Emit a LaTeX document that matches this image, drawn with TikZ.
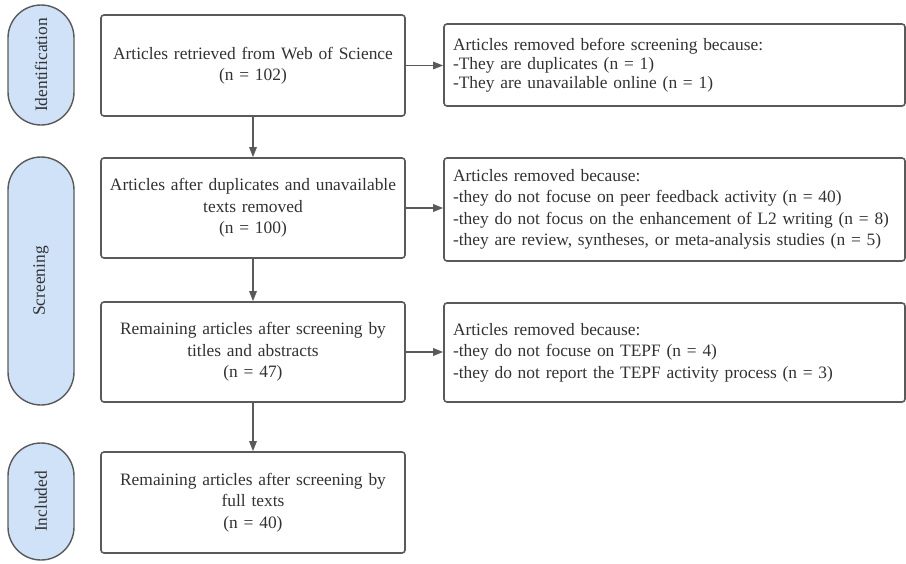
\documentclass[tikz,border=0pt]{standalone}
\usepackage{fontspec}
\setmainfont{Liberation Serif}
\usetikzlibrary{arrows.meta}

\definecolor{stageblue}{RGB}{207,226,248}
\definecolor{edgegray}{RGB}{90,90,90}
\definecolor{textgray}{RGB}{50,50,50}

\begin{document}
\begin{tikzpicture}[x=1pt, y=-1pt, >={Triangle[length=10pt,width=7.5pt]},
	every node/.style={font=\fontsize{17.4}{21.5}\selectfont, text=textgray},
	stage/.style={draw=edgegray, line width=1.4pt, fill=stageblue, rotate=90, minimum height=66pt, rounded corners=33pt, inner sep=0pt},
	recbox/.style={draw=edgegray, line width=1.6pt, rounded corners=3pt, align=center, text width=290pt, inner xsep=7pt},
	rmbox/.style={draw=edgegray, line width=1.6pt, rounded corners=3pt, align=left, text width=443pt, inner xsep=9pt},
	flow/.style={->, draw=edgegray, line width=1.4pt}]
	
	% parameters
	\def\stagex{41}     % centre of the stage pills
	\def\recx{253}      % centre of the record boxes
	\def\rmx{674.5}     % centre of the removal boxes
	
	\useasboundingbox (0,0) rectangle (906,563);
	
	% stages
	\node[stage, minimum width=120pt] (idstage) at (\stagex,65) {Identification};
	\node[stage, minimum width=248pt] (scrstage) at (\stagex,281) {Screening};
	\node[stage, minimum width=117pt] (incstage) at (\stagex,501.5) {Included};
	
	% records kept
	\node[recbox, minimum height=101pt] (retrieved) at (\recx,65.5)
		{Articles retrieved from Web of Science\\(n = 102)};
	\node[recbox, minimum height=100pt] (afterdup) at (\recx,208)
		{Articles after duplicates and unavailable\\texts removed\\(n = 100)};
	\node[recbox, minimum height=100pt] (aftertitle) at (\recx,352)
		{Remaining articles after screening by\\titles and abstracts\\(n = 47)};
	\node[recbox, minimum height=101pt] (afterfull) at (\recx,502.5)
		{Remaining articles after screening by\\full texts\\(n = 40)};
	
	% records removed
	\node[rmbox, minimum height=82pt, font=\fontsize{17.4}{19}\selectfont] (rmdup) at (\rmx,65)
		{Articles removed before screening because:\\-They are duplicates (n = 1)\\-They are unavailable online (n = 1)};
	\node[rmbox, minimum height=103pt] (rmscreen) at (\rmx,209.5)
		{Articles removed because:\\-they do not focuse on peer feedback activity (n = 40)\\-they do not focus on the enhancement of L2 writing (n = 8)\\-they are review, syntheses, or meta-analysis studies (n = 5)};
	\node[rmbox, minimum height=99pt] (rmtepf) at (\rmx,352.5)
		{Articles removed because:\\-they do not focuse on TEPF (n = 4)\\-they do not report the TEPF activity process (n = 3)};
	
	% flow down
	\draw[flow] (retrieved) -- (afterdup);
	\draw[flow] (afterdup) -- (aftertitle);
	\draw[flow] (aftertitle) -- (afterfull);
	
	% flow out
	\draw[flow] (retrieved.east) -- (retrieved.east -| rmdup.west);
	\draw[flow] (afterdup.east) -- (afterdup.east -| rmscreen.west);
	\draw[flow] (aftertitle.east) -- (aftertitle.east -| rmtepf.west);
\end{tikzpicture}
\end{document}
